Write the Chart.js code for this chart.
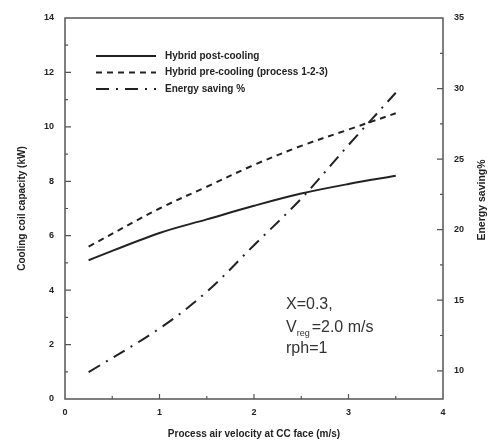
<!DOCTYPE html>
<html>
<head>
<meta charset="utf-8">
<script src="https://cdn.jsdelivr.net/npm/chart.js@4.4.1/dist/chart.umd.min.js"></script>
<style>
  body { margin: 0; background: #fff; }
</style>
</head>
<body>
<canvas id="myChart" width="488" height="440"></canvas>
<script>
// data
const velocity = [0.25, 1.0, 1.5, 2.0, 2.5, 3.0, 3.5];
const postCooling = [5.1, 6.1, 6.6, 7.1, 7.55, 7.9, 8.2];
const preCooling = [5.6, 7.0, 7.8, 8.6, 9.3, 9.9, 10.5];
const energySaving = [9.9, 13.0, 15.6, 18.9, 22.2, 26.0, 29.7];
const seriesNames = ['Hybrid post-cooling', 'Hybrid pre-cooling (process 1-2-3)', 'Energy saving %'];
const noteLines = ['X=0.3,', 'V', 'rph=1'];

const ink = '#222';
const frame = '#555';
const tickFont = { family: 'Liberation Sans, Arial, sans-serif', size: 9, weight: 'bold' };

function pts(ys) {
    return velocity.map((x, i) => ({ x: x, y: ys[i] }));
}

const data = {
    datasets: [{
        label: seriesNames[0],
        data: pts(postCooling),
        borderColor: ink,
        borderWidth: 2,
        yAxisID: 'y',
    }, {
        label: seriesNames[1],
        data: pts(preCooling),
        borderColor: ink,
        borderWidth: 2,
        borderDash: [6, 5],
        yAxisID: 'y',
    }, {
        label: seriesNames[2],
        data: pts(energySaving),
        borderColor: ink,
        borderWidth: 2,
        borderDash: [13, 7, 2, 7],
        yAxisID: 'y1',
    }]
};

// frame, inward tick marks, legend, notes, right axis title
const decor = {
    id: 'decor',
    afterDraw(chart) {
        const ctx = chart.ctx;
        const a = chart.chartArea;
        const sx = chart.scales.x, sy = chart.scales.y, sr = chart.scales.y1;
        ctx.save();
        ctx.strokeStyle = frame;
        ctx.lineWidth = 1.5;
        ctx.strokeRect(a.left, a.top, a.right - a.left, a.bottom - a.top);

        ctx.lineWidth = 1.2;
        ctx.beginPath();
        for (let v = 0.5; v < 4; v += 0.5) {
            const px = sx.getPixelForValue(v);
            const len = (v % 1 === 0) ? 5 : 3;
            ctx.moveTo(px, a.bottom); ctx.lineTo(px, a.bottom - len);
        }
        for (let v = 1; v < 14; v += 1) {
            const py = sy.getPixelForValue(v);
            const len = (v % 2 === 0) ? 6 : 3;
            ctx.moveTo(a.left, py); ctx.lineTo(a.left + len, py);
        }
        for (let v = 10; v < 35; v += 2.5) {
            const py = sr.getPixelForValue(v);
            const len = (v % 5 === 0) ? 6 : 3;
            ctx.moveTo(a.right, py); ctx.lineTo(a.right - len, py);
        }
        ctx.stroke();

        // legend
        ctx.fillStyle = ink;
        ctx.strokeStyle = ink;
        ctx.lineWidth = 2;
        ctx.font = 'bold 10px Liberation Sans, Arial, sans-serif';
        ctx.textBaseline = 'middle';
        chart.data.datasets.forEach((ds, i) => {
            const y = 56 + i * 16.5;
            ctx.setLineDash(ds.borderDash || []);
            ctx.beginPath();
            ctx.moveTo(96, y); ctx.lineTo(156, y);
            ctx.stroke();
            ctx.setLineDash([]);
            ctx.fillText(ds.label, 165, y);
        });

        // condition notes
        ctx.fillStyle = '#333';
        ctx.font = '16px Liberation Sans, Arial, sans-serif';
        ctx.textBaseline = 'alphabetic';
        ctx.fillText(noteLines[0], 286, 309);
        ctx.fillText(noteLines[1], 286, 332);
        let w = ctx.measureText(noteLines[1]).width;
        ctx.font = '9px Liberation Sans, Arial, sans-serif';
        ctx.fillText('reg', 286 + w, 336);
        w += ctx.measureText('reg').width + 2;
        ctx.font = '16px Liberation Sans, Arial, sans-serif';
        ctx.fillText('=2.0 m/s', 286 + w, 332);
        ctx.fillText(noteLines[2], 286, 353);

        // right axis title, reading bottom to top
        ctx.fillStyle = ink;
        ctx.font = 'bold 10.5px Liberation Sans, Arial, sans-serif';
        ctx.textAlign = 'center';
        ctx.textBaseline = 'middle';
        ctx.translate(482, 200);
        ctx.rotate(-Math.PI / 2);
        ctx.fillText('Energy saving%', 0, 0);
        ctx.restore();
    }
};

const config = {
    type: 'line',
    data: data,
    plugins: [decor],
    options: {
        responsive: false,
        animation: false,
        layout: { padding: { top: 18, left: 0, right: 0, bottom: 0 } },
        elements: { point: { radius: 0 }, line: { tension: 0.35 } },
        plugins: { legend: { display: false }, tooltip: { enabled: false } },
        scales: {
            x: {
                type: 'linear',
                min: 0, max: 4,
                afterFit(s) { s.height = 41; },
                grid: { display: false },
                border: { display: false },
                ticks: {
                    stepSize: 1, color: ink, font: tickFont, padding: 0,
                    maxRotation: 0, autoSkip: false,
                },
                title: {
                    display: true,
                    text: 'Process air velocity at CC face (m/s)',
                    color: ink,
                    font: { family: 'Liberation Sans, Arial, sans-serif', size: 10, weight: 'bold' },
                    padding: { top: 4, bottom: 0 },
                }
            },
            y: {
                position: 'left',
                min: 0, max: 14,
                afterFit(s) { s.width = 65; },
                grid: { display: false },
                border: { display: false },
                ticks: { stepSize: 2, color: ink, font: tickFont, padding: 3, autoSkip: false },
                title: {
                    display: true,
                    text: 'Cooling coil capacity (kW)',
                    color: ink,
                    font: { family: 'Liberation Sans, Arial, sans-serif', size: 10, weight: 'bold' },
                    padding: { top: 16, bottom: 0 },
                }
            },
            y1: {
                position: 'right',
                min: 8, max: 35,
                afterFit(s) { s.width = 45; },
                afterBuildTicks(s) {
                    s.ticks = [10, 15, 20, 25, 30, 35].map(v => ({ value: v }));
                },
                grid: { display: false },
                border: { display: false },
                ticks: { color: ink, font: tickFont, padding: 3, autoSkip: false },
            }
        }
    }
};

const myChart = new Chart(
    document.getElementById('myChart'),
    config
);
</script>
</body>
</html>
